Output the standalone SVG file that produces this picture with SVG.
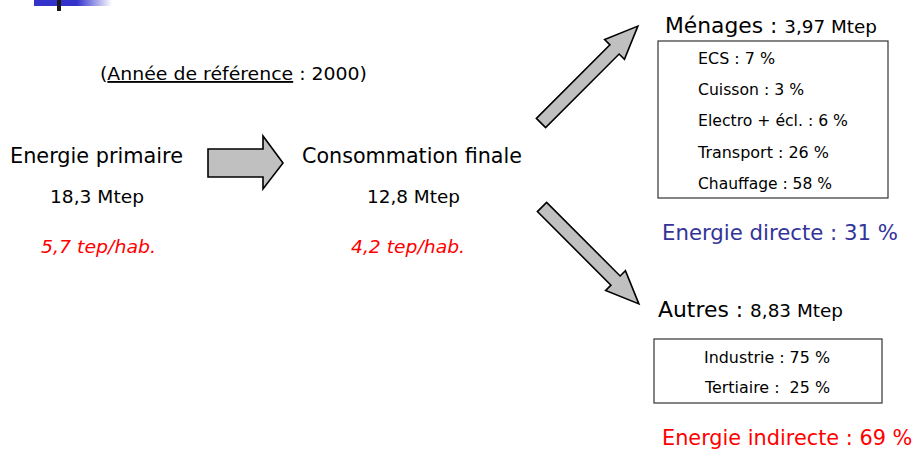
<svg xmlns="http://www.w3.org/2000/svg" width="924" height="456" viewBox="0 0 924 456">
<defs>
<linearGradient id="fade" x1="0" y1="0" x2="1" y2="0">
<stop offset="0" stop-color="#3333cc"/>
<stop offset="0.55" stop-color="#3333cc"/>
<stop offset="1" stop-color="#3333cc" stop-opacity="0"/>
</linearGradient>
<style>
text{font-family:"DejaVu Sans","Liberation Sans",sans-serif;fill:#000}
.big{font-size:22px}
.mid{font-size:18.5px}
.sm{font-size:16px}
.red{fill:#ff0000}
.it{font-style:italic}
.blue{fill:#333399}
.arrow{fill:#c0c0c0;stroke:#000;stroke-width:1.6;stroke-linejoin:miter}
.box{fill:#fff;stroke:#333;stroke-width:1.2}
</style>
</defs>
<rect width="924" height="456" fill="#fff"/>
<g id="title-bar">
<rect x="34" y="0" width="78" height="6" fill="url(#fade)"/>
<rect x="57" y="0" width="4" height="11" fill="#1a1a1a"/>
</g>
<g id="reference">
<text class="mid" x="100" y="80" textLength="267" lengthAdjust="spacingAndGlyphs">(<tspan text-decoration="underline">Année de référence</tspan> : 2000)</text>
</g>
<g id="primaire">
<text class="big" x="10" y="163" textLength="173" lengthAdjust="spacingAndGlyphs">Energie primaire</text>
<text class="mid" x="50" y="203" textLength="94" lengthAdjust="spacingAndGlyphs">18,3 Mtep</text>
<text class="mid red it" x="41" y="253" textLength="115" lengthAdjust="spacingAndGlyphs">5,7 tep/hab.</text>
</g>
<g id="finale">
<text class="big" x="302" y="163" textLength="220" lengthAdjust="spacingAndGlyphs">Consommation finale</text>
<text class="mid" x="367" y="203" textLength="93" lengthAdjust="spacingAndGlyphs">12,8 Mtep</text>
<text class="mid red it" x="351" y="253" textLength="114" lengthAdjust="spacingAndGlyphs">4,2 tep/hab.</text>
</g>
<g id="connectors">
<polygon class="arrow" points="208,149 263,149 263,136 283,163 263,189 263,177 208,177"/>
<polygon class="arrow" transform="translate(541,123) rotate(-45)" points="0,-6.5 104,-6.5 104,-14 137,0 104,14 104,6.5 0,6.5"/>
<polygon class="arrow" transform="translate(542,207) rotate(45)" points="0,-6.5 104,-6.5 104,-14 137,0 104,14 104,6.5 0,6.5"/>
</g>
<g id="menages">
<text class="big" x="665" y="33" textLength="212" lengthAdjust="spacingAndGlyphs">Ménages : <tspan class="mid">3,97 Mtep</tspan></text>
<rect class="box" x="658" y="41" width="230" height="157"/>
<text class="sm" x="698" y="64" textLength="77" lengthAdjust="spacingAndGlyphs">ECS : 7 %</text>
<text class="sm" x="698" y="95" textLength="106" lengthAdjust="spacingAndGlyphs">Cuisson : 3 %</text>
<text class="sm" x="698" y="126" textLength="150" lengthAdjust="spacingAndGlyphs">Electro + écl. : 6 %</text>
<text class="sm" x="698" y="158" textLength="131" lengthAdjust="spacingAndGlyphs">Transport : 26 %</text>
<text class="sm" x="698" y="189" textLength="134" lengthAdjust="spacingAndGlyphs">Chauffage : 58 %</text>
</g>
<g id="directe">
<text class="big blue" x="662" y="240" font-size="22" textLength="236" lengthAdjust="spacingAndGlyphs">Energie directe : 31 %</text>
</g>
<g id="autres">
<text class="big" x="658" y="317" textLength="185" lengthAdjust="spacingAndGlyphs">Autres : <tspan class="mid">8,83 Mtep</tspan></text>
<rect class="box" x="654" y="339" width="228" height="64"/>
<text class="sm" x="704" y="363" textLength="126" lengthAdjust="spacingAndGlyphs">Industrie : 75 %</text>
<text class="sm" x="705" y="393" textLength="125" lengthAdjust="spacingAndGlyphs" xml:space="preserve">Tertiaire :  25 %</text>
</g>
<g id="indirecte">
<text class="big red" transform="translate(662,445) scale(0.84,1)" x="0" y="0" font-size="21" textLength="298" lengthAdjust="spacingAndGlyphs">Energie indirecte : 69 %</text>
</g>
</svg>
